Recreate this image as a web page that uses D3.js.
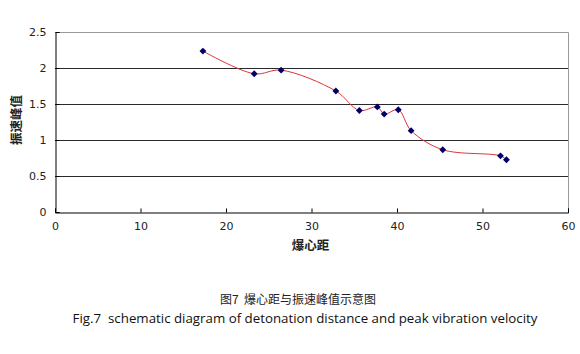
<!DOCTYPE html>
<html>
<head>
<meta charset="utf-8">
<script src="https://cdn.jsdelivr.net/npm/d3@7"></script>
<style>
  body { margin: 0; background: #fff; }
  svg { display: block; }
</style>
</head>
<body>
<script>
// detonation distance vs peak vibration velocity
const distance = [17.3, 23.3, 26.45, 32.85, 35.6, 37.7, 38.5, 40.15, 41.65, 45.35, 52.1, 52.8]
const velocity = [2.235, 1.92, 1.97, 1.68, 1.41, 1.46, 1.36, 1.42, 1.13, 0.865, 0.78, 0.725]
const xTicks = [0, 10, 20, 30, 40, 50, 60]
const yTicks = [0, 0.5, 1, 1.5, 2, 2.5]

const W = 580, H = 354
const mLeft = 55, mRight = 568, mTop = 32, mBottom = 212

const svg = d3.select('body').append('svg').attr('width', W).attr('height', H)

const x = d3.scaleLinear().domain([0, 60]).range([mLeft, mRight])
const y = d3.scaleLinear().domain([0, 2.5]).range([mBottom, mTop])

// gridlines
svg.append('g').selectAll('line')
    .data(yTicks.filter(d => d > 0 && d < 2.5))
    .enter().append('line')
    .attr('x1', mLeft).attr('x2', mRight)
    .attr('y1', d => Math.round(y(d)) + 0.5).attr('y2', d => Math.round(y(d)) + 0.5)
    .attr('stroke', '#2a2a2a').attr('stroke-width', 1)

// plot border top/right
svg.append('path')
    .attr('d', `M${mLeft},${Math.round(mTop) + 0.5}H${mRight + 0.5}V${mBottom}`)
    .attr('fill', 'none').attr('stroke', '#999')

const xAxis = d3.axisBottom(x).tickValues(xTicks).tickSize(-4).tickPadding(10).tickFormat(d3.format('d'))
const gx = svg.append('g').attr('transform', `translate(0,${Math.round(mBottom) + 0.5})`).call(xAxis)
gx.select('.domain').attr('stroke', '#000')

const yAxis = d3.axisLeft(y).tickValues(yTicks).tickSize(-4).tickPadding(9).tickFormat(d => d)
const gy = svg.append('g').attr('transform', `translate(${mLeft + 0.5},0)`).call(yAxis)
gy.select('.domain').attr('stroke', '#000')

svg.selectAll('.tick text')
    .style('font-family', '"DejaVu Sans", sans-serif')
    .style('font-size', '11px')
    .attr('fill', '#222')

// axis titles
svg.append('text')
    .attr('x', (mLeft + mRight) / 2 - 1).attr('y', 250)
    .attr('text-anchor', 'middle')
    .style('font-family', '"Noto Sans CJK SC", sans-serif')
    .style('font-size', '12.5px').style('font-weight', 'bold').attr('fill', '#222')
    .text('爆心距')

svg.append('text')
    .attr('transform', `translate(21,${(mTop + mBottom) / 2 - 2}) rotate(-90)`)
    .attr('text-anchor', 'middle')
    .style('font-family', '"Noto Sans CJK SC", sans-serif')
    .style('font-size', '12.5px').style('font-weight', 'bold').attr('fill', '#222')
    .text('振速峰值')

// series
const pts = distance.map((d, i) => [d, velocity[i]])
svg.append('path')
    .datum(pts)
    .attr('d', d3.line().x(d => x(d[0])).y(d => y(d[1])).curve(d3.curveCatmullRom.alpha(0.5)))
    .attr('fill', 'none').attr('stroke', '#d9363e').attr('stroke-width', 1)

svg.append('g').selectAll('path')
    .data(pts).enter().append('path')
    .attr('d', d3.symbol(d3.symbolDiamond2, 30))
    .attr('transform', d => `translate(${x(d[0])},${y(d[1])})`)
    .attr('fill', '#000066')

// caption
svg.append('text')
    .attr('x', 298).attr('y', 304)
    .attr('text-anchor', 'middle')
    .attr('xml:space', 'preserve')
    .style('white-space', 'pre')
    .style('font-family', '"Noto Sans CJK SC", sans-serif')
    .style('font-size', '12px').attr('fill', '#222')
    .text('图7  爆心距与振速峰值示意图')

svg.append('text')
    .attr('x', 305).attr('y', 323)
    .attr('text-anchor', 'middle')
    .attr('xml:space', 'preserve')
    .style('white-space', 'pre')
    .style('font-family', '"Open Sans", sans-serif')
    .style('font-size', '13.3px').attr('fill', '#111')
    .text('Fig.7  schematic diagram of detonation distance and peak vibration velocity')
</script>
</body>
</html>
